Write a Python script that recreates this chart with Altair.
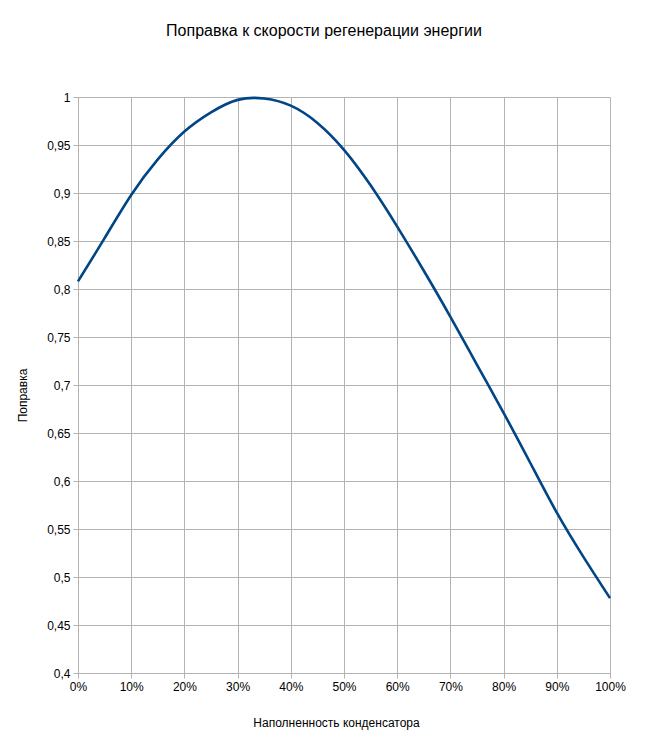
import altair as alt
import pandas as pd

# Data
fill_pct = [0, 5, 10, 15, 20, 25, 30, 35, 40, 45, 50, 55, 60, 65, 70, 75, 80, 85, 90, 95, 100]
correction = [0.808, 0.853, 0.898, 0.935, 0.964, 0.984, 0.997, 0.9985, 0.991, 0.973, 0.945,
              0.908, 0.865, 0.819, 0.771, 0.721, 0.671, 0.619, 0.567, 0.521, 0.478]

x_ticks = [0, 10, 20, 30, 40, 50, 60, 70, 80, 90, 100]
y_ticks = [0.4, 0.45, 0.5, 0.55, 0.6, 0.65, 0.7, 0.75, 0.8, 0.85, 0.9, 0.95, 1.0]

title_text = "Поправка к скорости регенерации энергии"
x_title = "Наполненность конденсатора"
y_title = "Поправка"

df = pd.DataFrame({"x": fill_pct, "y": correction})

FONT = "Liberation Sans"
GRID = "#b3b3b3"

chart = alt.Chart(df).mark_line(
    color="#004586", strokeWidth=2.6, interpolate="natural"
).encode(
    x=alt.X("x:Q",
            scale=alt.Scale(domain=[0, 100], nice=False, zero=False),
            axis=alt.Axis(values=x_ticks, labelExpr="datum.value + '%'",
                          labelFlush=False,
                          title=x_title, titleX=258, titleY=49,
                          titleBaseline="middle", titleAlign="center")),
    y=alt.Y("y:Q",
            scale=alt.Scale(domain=[0.4, 1.0], nice=False, zero=False),
            axis=alt.Axis(values=y_ticks,
                          labelExpr="replace(format(datum.value, '~g'), '.', ',')",
                          labelFlush=False,
                          title=y_title, titleX=-56, titleY=298, titleAngle=-90,
                          titleBaseline="middle", titleAlign="center")),
).properties(
    width=532,
    height=576,
    autosize=alt.AutoSizeParams(type="none"),
    padding={"left": 70, "top": 89, "right": 31, "bottom": 65},
    title=alt.Title(title_text, fontSize=16, font=FONT, fontWeight="normal",
                    color="#000000", anchor="middle", dx=-20, offset=52),
).configure_view(
    stroke=None
).configure_axis(
    gridColor=GRID, gridWidth=1, domainColor=GRID, tickColor=GRID, tickSize=5,
    labelFont=FONT, labelFontSize=12, labelColor="#000000", labelPadding=3,
    titleFont=FONT, titleFontSize=12, titleFontWeight="normal", titleColor="#000000",
)

chart.save("out.html", embed_options={"renderer": "svg", "actions": False})
